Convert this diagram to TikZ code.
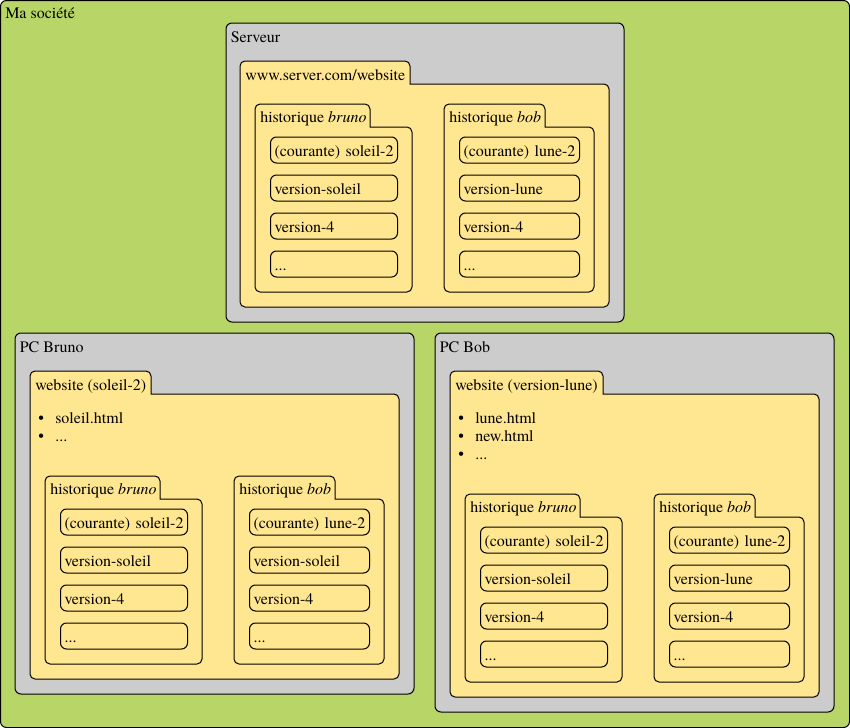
\documentclass[tikz,border=0pt]{standalone}
\usepackage{fontspec}
\setmainfont{TeX Gyre Termes}
\definecolor{societe}{HTML}{B8D667}
\definecolor{machine}{HTML}{CCCCCC}
\definecolor{dossier}{HTML}{FFE691}
\tikzset{
  box/.style={draw=black, line width=0.75pt, rounded corners=4.5pt},
  fold/.style={draw=black, line width=0.75pt, fill=dossier},
  entry/.style={draw=black, line width=0.75pt, rounded corners=4.5pt, anchor=north west,
    minimum height=19.5pt, inner xsep=3pt, inner ysep=0pt, text height=10.5pt, text depth=1.5pt, align=left},
  lbl/.style={anchor=base west, inner sep=0pt},
}
% #1 x0, #2 tab top, #3 tab right, #4 body top, #5 body right, #6 body bottom (pixels, y down)
\newcommand\fold[6]{%
  \draw[fold] ({#1},{-(#6)+5}) -- ({#1},{-(#2)-5}) arc[start angle=180,end angle=90,radius=5]
    -- ({(#3)-5},{-(#2)}) arc[start angle=90,end angle=0,radius=5]
    -- ({#3},{-(#4)}) -- ({(#5)-5},{-(#4)}) arc[start angle=90,end angle=0,radius=5]
    -- ({#5},{-(#6)+5}) arc[start angle=0,end angle=-90,radius=5]
    -- ({(#1)+5},{-(#6)}) arc[start angle=270,end angle=180,radius=5] -- cycle;}
% #1 prefix, #2 x0, #3 tab top, #4 tab right, #5 body right, #6 label, #7-#9 entries
\newcommand\hist[9]{%
  \fold{#2}{#3}{#4}{#3+23}{#5}{#3+188}
  \node[lbl] (#1-tab) at ({#2+5},{-(#3+18.5)}) {#6};
  \pgfmathsetmacro\tw{(#5-#2-38)*0.75}
  \node[entry, text width=\tw pt] (#1-1) at ({#2+15},{-(#3+32.5)}) {\mbox{#7}};
  \node[entry, text width=\tw pt] (#1-2) at ({#2+15},{-(#3+70.5)}) {\mbox{#8}};
  \node[entry, text width=\tw pt] (#1-3) at ({#2+15},{-(#3+108.5)}) {\mbox{#9}};
  \node[entry, text width=\tw pt] (#1-4) at ({#2+15},{-(#3+146.5)}) {...};
}
\begin{document}
\begin{tikzpicture}[x=0.75pt, y=0.75pt, font=\fontsize{12}{14.4}\selectfont]
\useasboundingbox (0,0) rectangle (850,-728);
% Ma société
\draw[box, fill=societe] (0.5,-0.5) rectangle (849.5,-727.5);
\node[lbl] (societe) at (5,-18.5) {Ma société};
% Serveur
\draw[box, fill=machine] (226,-23) rectangle (624,-322);
\node[lbl] (serveur) at (230.5,-42) {Serveur};
\fold{240}{61}{410}{84}{609}{307}
\node[lbl] (srv-web) at (245,-80) {www.server.com/website};
\hist{sbr}{255}{104}{370}{412}{historique \textit{bruno}}{(courante) soleil-2}{version-soleil}{version-4}
\hist{sbo}{444}{104}{545}{594}{historique \textit{bob}}{(courante) lune-2}{version-lune}{version-4}
% PC Bruno
\draw[box, fill=machine] (15,-333) rectangle (414,-694);
\node[lbl] (pcbruno) at (19.5,-352) {PC Bruno};
\fold{30}{371}{151}{394}{399}{679}
\node[lbl] (bru-web) at (35,-390) {website (soleil-2)};
\node[lbl] (bru-b1) at (38,-423) {\textbullet};
\node[lbl] (bru-t1) at (55,-423) {soleil.html};
\node[lbl] (bru-b2) at (38,-441) {\textbullet};
\node[lbl] (bru-t2) at (55,-441) {...};
\hist{bbr}{45}{476}{160}{202}{historique \textit{bruno}}{(courante) soleil-2}{version-soleil}{version-4}
\hist{bbo}{234}{476}{335}{384}{historique \textit{bob}}{(courante) lune-2}{version-soleil}{version-4}
% PC Bob
\draw[box, fill=machine] (435,-333) rectangle (834,-712);
\node[lbl] (pcbob) at (439.5,-352) {PC Bob};
\fold{450}{371}{603}{394}{819}{697}
\node[lbl] (bob-web) at (455,-390) {website (version-lune)};
\node[lbl] (bob-b1) at (458,-423) {\textbullet};
\node[lbl] (bob-t1) at (475,-423) {lune.html};
\node[lbl] (bob-b2) at (458,-441) {\textbullet};
\node[lbl] (bob-t2) at (475,-441) {new.html};
\node[lbl] (bob-b3) at (458,-459) {\textbullet};
\node[lbl] (bob-t3) at (475,-459) {...};
\hist{obr}{465}{494}{580}{622}{historique \textit{bruno}}{(courante) soleil-2}{version-soleil}{version-4}
\hist{obo}{654}{494}{755}{804}{historique \textit{bob}}{(courante) lune-2}{version-lune}{version-4}
\end{tikzpicture}
\end{document}
